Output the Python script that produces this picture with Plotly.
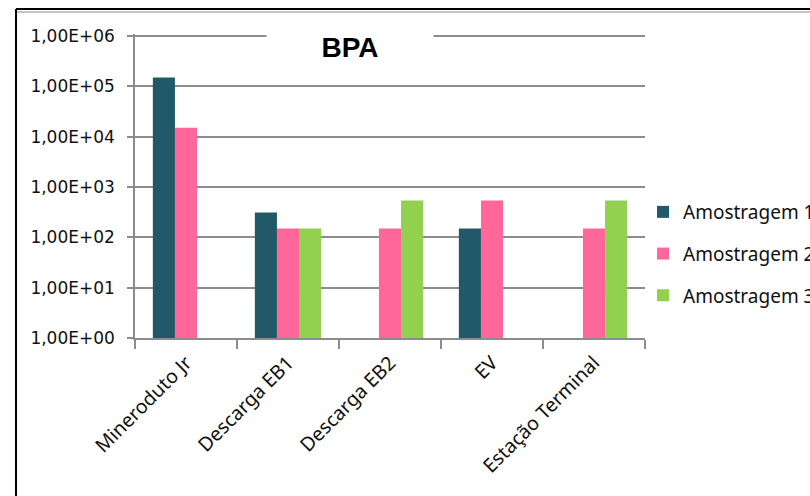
import plotly.graph_objects as go

# Sampling sites and BPA counts per sampling campaign
categories = ["Mineroduto Jr", "Descarga EB1", "Descarga EB2", "EV", "Estação Terminal"]
amostragem_1 = [150000, 310, None, 150, None]
amostragem_2 = [15000, 150, 150, 540, 150]
amostragem_3 = [None, 150, 540, None, 540]

series_names = ["Amostragem 1", "Amostragem 2", "Amostragem 3"]
series_colors = ["#215968", "#FF6699", "#92D050"]

y_tick_values = [1, 10, 100, 1000, 10000, 100000, 1000000]
y_tick_labels = ["1,00E+00", "1,00E+01", "1,00E+02", "1,00E+03",
                 "1,00E+04", "1,00E+05", "1,00E+06"]

W, H = 810, 496
L, R, B = 135, 645, 338          # plot area edges in pixels
TOP_DECADE_PX = 36               # pixel row of the 1E+06 gridline
Y_MAX = 6.04                     # a little headroom so the 1E+06 gridline is kept
decade_px = (B - TOP_DECADE_PX) / 6
T = B - decade_px * Y_MAX


def px_x(px):
    return (px - L) / (R - L)


def px_y(py):
    return (B - py) / (B - T)


fig = go.Figure()
for i, (name, vals, color) in enumerate(
        zip(series_names, [amostragem_1, amostragem_2, amostragem_3], series_colors)):
    fig.add_trace(go.Bar(
        x=categories, y=vals, name=name,
        marker=dict(color=color, line=dict(width=0)),
        legendgroup=f"g{i}",
    ))

grid_gray = "#8c8c8c"

fig.update_layout(
    width=W, height=H,
    margin=dict(l=L, r=W - R, t=T, b=H - B, autoexpand=False),
    paper_bgcolor="white", plot_bgcolor="white",
    barmode="group", bargap=0.35, bargroupgap=0,
    showlegend=True,
    legend=dict(
        x=px_x(643), xanchor="left", y=px_y(254), yanchor="middle",
        font=dict(family="Noto Sans", size=19, color="#111"),
        bgcolor="rgba(0,0,0,0)", tracegroupgap=14,
    ),
    xaxis=dict(
        type="category", showline=True, linecolor=grid_gray, linewidth=1.5,
        ticks="outside", tickson="boundaries", ticklen=9, tickcolor=grid_gray,
        tickwidth=1.5, tickangle=-45, showgrid=False, ticklabelstandoff=4,
        tickfont=dict(family="Noto Sans", size=19.5, color="#111"),
    ),
    yaxis=dict(
        type="log", range=[0, Y_MAX], tickvals=y_tick_values, ticktext=y_tick_labels,
        showgrid=True, gridcolor=grid_gray, gridwidth=1.5,
        showline=True, linecolor=grid_gray, linewidth=1.5,
        ticks="outside", ticklen=6, tickcolor=grid_gray, tickwidth=1.5,
        zeroline=False, ticklabelstandoff=9,
        tickfont=dict(family="DejaVu Sans", size=17, color="#111"),
    ),
)

# Chart title on a white box that interrupts the top gridline
fig.add_annotation(
    text="<b>BPA</b>", xref="paper", yref="paper",
    x=px_x(350), y=px_y(47), xanchor="center", yanchor="middle",
    showarrow=False, bgcolor="white", width=164, height=30,
    font=dict(family="Liberation Sans", size=28, color="black"),
)

# Sheet frame: black left and top edges with a thin gray inner line on top
fig.add_shape(type="line", xref="paper", yref="paper",
              x0=px_x(16), x1=px_x(16), y0=px_y(9), y1=px_y(H + 5),
              line=dict(color="black", width=2))
fig.add_shape(type="line", xref="paper", yref="paper",
              x0=px_x(16), x1=px_x(W + 5), y0=px_y(9), y1=px_y(9),
              line=dict(color="black", width=2))
fig.add_shape(type="line", xref="paper", yref="paper",
              x0=px_x(17), x1=px_x(W + 5), y0=px_y(12), y1=px_y(12),
              line=dict(color="#b0b0b0", width=1.5))

fig.write_html("out.html")
